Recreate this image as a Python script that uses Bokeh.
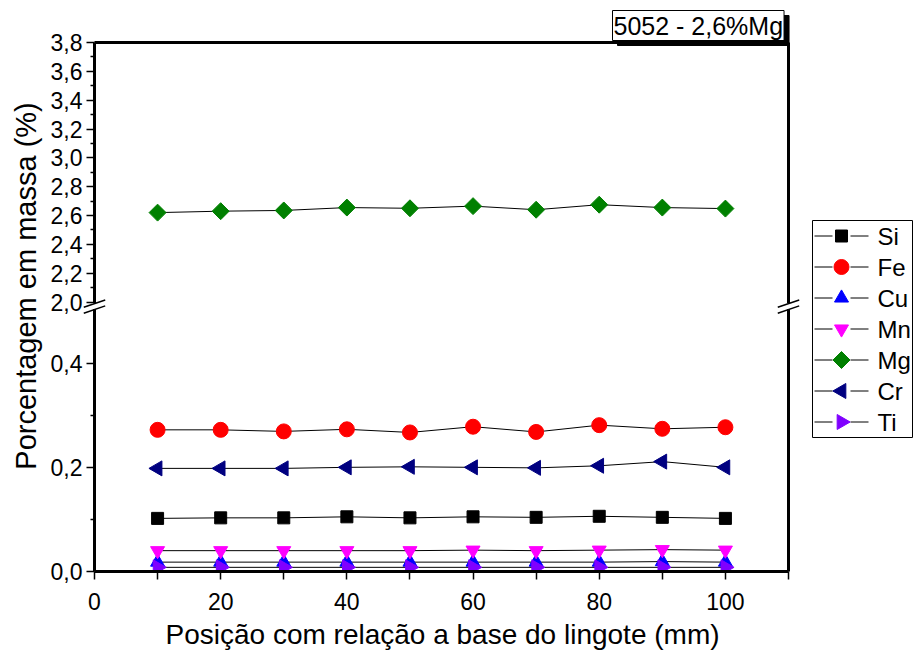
from bokeh.plotting import figure
from bokeh.models import Range1d, FixedTicker, Label, Title
from bokeh.core.properties import value
from bokeh.embed import file_html
from bokeh.resources import INLINE

# ---------------- data ----------------
pos = [10, 20, 30, 40, 50, 60, 70, 80, 90, 100]
si = [0.102, 0.103, 0.103, 0.105, 0.103, 0.105, 0.104, 0.106, 0.104, 0.102]
fe = [0.272, 0.272, 0.269, 0.273, 0.267, 0.278, 0.268, 0.281, 0.274, 0.277]
cu = [0.018, 0.018, 0.018, 0.018, 0.018, 0.018, 0.018, 0.018, 0.019, 0.018]
mn = [0.040, 0.040, 0.040, 0.040, 0.040, 0.041, 0.040, 0.041, 0.042, 0.041]
mg = [2.620, 2.630, 2.635, 2.655, 2.650, 2.665, 2.640, 2.675, 2.655, 2.648]
cr = [0.198, 0.198, 0.198, 0.200, 0.201, 0.200, 0.199, 0.203, 0.211, 0.200]
ti = [0.008, 0.008, 0.008, 0.008, 0.008, 0.008, 0.008, 0.008, 0.008, 0.008]

names = ["Si", "Fe", "Cu", "Mn", "Mg", "Cr", "Ti"]
values = [si, fe, cu, mn, mg, cr, ti]
markers = ["square", "circle", "triangle", "inverted_triangle", "square", "triangle", "triangle"]
angles = [0, 0, 0, 0, 0.7854, 1.5708, -1.5708]
colors = ["#000000", "#FF0000", "#0000FF", "#FF00FF", "#008000", "#000080", "#8000FF"]
sizes = [12, 15, 14, 14, 12, 15, 15]
upper_series = ["Mg"]

low_major = [0.0, 0.2, 0.4]
low_minor = [0.1, 0.3]
up_major = [2.0, 2.2, 2.4, 2.6, 2.8, 3.0, 3.2, 3.4, 3.6, 3.8]
up_minor = [2.1, 2.3, 2.5, 2.7, 2.9, 3.1, 3.3, 3.5, 3.7]
x_major = [0, 20, 40, 60, 80, 100]
x_minor = [10, 30, 50, 70, 90, 110]
x_max = 110

title_text = "5052 - 2,6%Mg"
x_label = "Posição com relação a base do lingote (mm)"
y_label = "Porcentagem em massa (%)"

# ---------------- layout constants ----------------
FONT = "Liberation Sans"
LEFT = 94                     # canvas x of the y axis
AXIS_W = 694                  # width of the boxed plot area
FRAME_W, FRAME_H = 820, 571   # frame reaches the right and top of canvas
PX_PER_UNIT_LOW = 520.8       # pixels per 1.0 in the lower segment
UP_BOTTOM_PX = 269.5          # height of the 2.0 level above the x axis
UP_TOP_PX = 529.0             # height of the 3.8 level (top of the box)
LOW_MAX = 0.5

x_end = x_max * FRAME_W / AXIS_W
px_per_x = AXIS_W / x_max
y_end = FRAME_H / PX_PER_UNIT_LOW
up_bottom = UP_BOTTOM_PX / PX_PER_UNIT_LOW
box_top = UP_TOP_PX / PX_PER_UNIT_LOW
slope = (up_major[-1] - up_major[0]) / (box_top - up_bottom)
up_start = up_major[0] - up_bottom * slope
up_end = up_start + y_end * slope


def to_base(v):
    return (v - up_start) / slope


def cx(px):   # canvas x pixel -> data x
    return (px - LEFT) / px_per_x


def cy(py):   # canvas y pixel -> base data y
    return (FRAME_H - py) / PX_PER_UNIT_LOW


p = figure(frame_width=FRAME_W, frame_height=FRAME_H,
           x_range=Range1d(0, x_end), y_range=Range1d(0, y_end),
           output_backend="svg", toolbar_location=None,
           min_border_left=LEFT, min_border_right=0,
           min_border_top=0, min_border_bottom=90)
p.extra_y_ranges = {"upper": Range1d(up_start, up_end)}

p.xgrid.visible = False
p.ygrid.visible = False
p.outline_line_color = None
p.background_fill_color = "white"
p.border_fill_color = "white"

# ticks
y_ticks = low_major + [to_base(v) for v in up_major]
y_minor = low_minor + [to_base(v) for v in up_minor]
overrides = {}
for v in low_major:
    overrides[v] = f"{v:.1f}".replace(".", ",")
for v in up_major:
    overrides[to_base(v)] = f"{v:.1f}".replace(".", ",")
p.yaxis.ticker = FixedTicker(ticks=y_ticks, minor_ticks=y_minor)
p.yaxis.major_label_overrides = overrides
p.xaxis.ticker = FixedTicker(ticks=x_major, minor_ticks=x_minor)

for ax in (p.xaxis[0], p.yaxis[0]):
    ax.axis_line_color = None
    ax.major_tick_line_width = 1.5
    ax.minor_tick_line_width = 1.5
    ax.major_tick_in = 0
    ax.minor_tick_in = 0
    ax.major_label_text_font = FONT
    ax.major_label_text_font_size = "23px"
    ax.major_label_text_color = "black"
    ax.axis_label_text_font = FONT
    ax.axis_label_text_font_style = "normal"
    ax.axis_label_text_color = "black"
p.yaxis.axis_label_text_font_size = "29px"
p.xaxis.major_tick_out = 8
p.xaxis.minor_tick_out = 8
p.yaxis.major_tick_out = 8
p.yaxis.minor_tick_out = 4
p.yaxis.axis_label = y_label
p.xaxis.major_label_standoff = 13
p.yaxis.major_label_standoff = 4
p.yaxis.axis_label_standoff = 6

# x axis title, centred under the boxed area
xt = Title(text=x_label, align="left", offset=(AXIS_W - 552) / 2,
           text_font=FONT, text_font_size="28px", text_font_style="normal",
           text_color="black", standoff=8)
p.add_layout(xt, "below")

# box: axes lines, top and right borders (stop at 3.8 and 110)
box = p.segment(x0=[0, 0, 0, x_max], y0=[0, 0, box_top, 0],
                x1=[x_max, 0, x_max, x_max], y1=[0, box_top, box_top, box_top],
                line_color="black", line_width=3)
box.level = "overlay"

# series
for name, vals, mk, ang, col, sz in zip(names, values, markers, angles, colors, sizes):
    kw = {"y_range_name": "upper"} if name in upper_series else {}
    p.line(pos, vals, line_color="black", line_width=1, **kw)
    p.scatter(pos, vals, marker=mk, angle=ang, size=sz,
              fill_color=col, line_color=col, **kw)

# legend (drawn by hand so that rotated markers keep their shape)
LG_LEFT, LG_RIGHT, LG_TOP, LG_BOTTOM = 812, 912, 220, 437
row_h = (LG_BOTTOM - LG_TOP) / len(names)
p.quad(left=[cx(LG_LEFT)], right=[cx(LG_RIGHT)], top=[cy(LG_TOP)], bottom=[cy(LG_BOTTOM)],
       fill_color="white", line_color="black", line_width=1)
ly = [cy(LG_TOP + row_h * (i + 0.5)) for i in range(len(names))]
n = len(names)
p.segment(x0=[cx(LG_LEFT + 2)] * n, x1=[cx(LG_LEFT + 20)] * n, y0=ly, y1=ly,
          line_color="black", line_width=1)
p.segment(x0=[cx(LG_LEFT + 38)] * n, x1=[cx(LG_LEFT + 56)] * n, y0=ly, y1=ly,
          line_color="black", line_width=1)
p.scatter(x=[cx(LG_LEFT + 29)] * n, y=ly, marker=markers, angle=angles, size=sizes,
          fill_color=colors, line_color=colors)
p.text(x=[cx(LG_LEFT + 65)] * n, y=ly, text=names, text_font=value(FONT),
       text_font_size=value("24px"), text_baseline="middle", text_align="left",
       text_color="black")

# break marks on both vertical edges
for xc in (0, x_max):
    gap = p.segment(x0=[xc], y0=[LOW_MAX + 0.004], x1=[xc], y1=[up_bottom - 0.002],
                    line_color="white", line_width=5)
    gap.level = "overlay"
    sl = p.segment(x0=[xc - 1.7, xc - 1.7], y0=[LOW_MAX - 0.004, up_bottom - 0.010],
                   x1=[xc + 1.7, xc + 1.7], y1=[LOW_MAX + 0.010, up_bottom + 0.004],
                   line_color="black", line_width=1.5)
    sl.level = "overlay"

# title box with shadow
shadow = Label(x=523, y=526, x_units="screen", y_units="screen", text=title_text,
               text_font=FONT, text_font_size="25px", text_color="black",
               background_fill_color="black", border_line_color="black",
               padding=1)
tbox = Label(x=518, y=531, x_units="screen", y_units="screen", text=title_text,
             text_font=FONT, text_font_size="25px", text_color="black",
             background_fill_color="white", border_line_color="black",
             border_line_width=1, padding=1)
p.add_layout(shadow)
p.add_layout(tbox)

open("out.html", "w").write(file_html(p, INLINE))
